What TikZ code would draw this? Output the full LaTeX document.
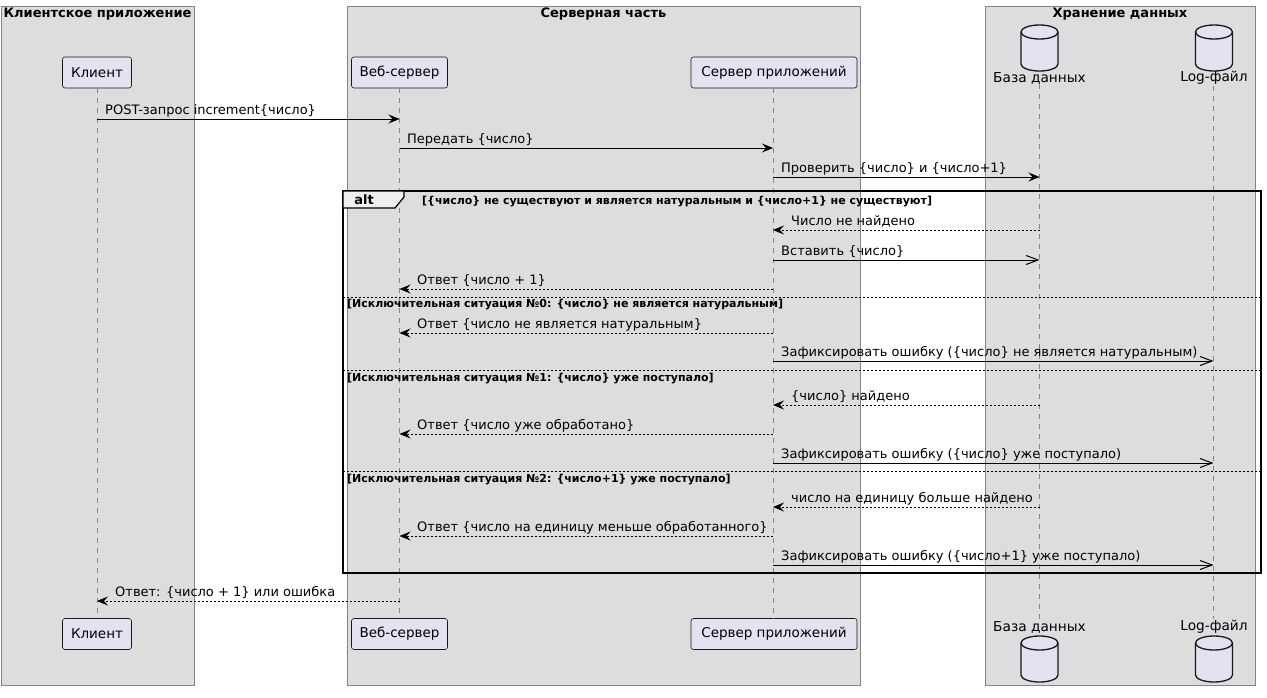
\documentclass[tikz,border=0pt]{standalone}
\usepackage{fontspec}
\setmainfont{DejaVu Sans}
\usepackage{xcolor}
\usepackage{tikz}
\usetikzlibrary{arrows.meta}

\definecolor{grpfill}{HTML}{DDDDDD}
\definecolor{grpline}{HTML}{858585}
\definecolor{partfill}{HTML}{E2E2F0}
\definecolor{partline}{HTML}{181818}
\definecolor{tabfill}{HTML}{EEEEEE}

\tikzset{
    grp/.style={fill=grpfill, draw=grpline, line width=1pt},
    grptitle/.style={font=\fontsize{13}{15}\selectfont\bfseries, inner sep=0pt},
    part/.style={draw=partline, fill=partfill, rounded corners=2.5pt, line width=0.6pt,
        minimum height=31pt, inner xsep=0pt, font=\fontsize{13.5}{16}\selectfont},
    cyl/.style={draw=partline, fill=partfill, line width=1.3pt},
    dbname/.style={inner sep=0pt, font=\fontsize{13.7}{16}\selectfont},
    life/.style={draw=grpline, dash pattern=on 5pt off 5pt, line width=0.8pt},
    sync/.style={-{Stealth[length=11pt,width=9pt,inset=4pt]}, line width=1pt},
    reply/.style={sync, dash pattern=on 2pt off 2pt},
    async/.style={-{Straight Barb[length=12pt,width=9pt]}, line width=1pt},
    lbl/.style={anchor=base west, inner sep=0pt, font=\fontsize{13}{15}\selectfont},
    cond/.style={anchor=base west, inner sep=0pt, font=\fontsize{11}{13}\selectfont\bfseries},
    sep/.style={dash pattern=on 2pt off 2pt, line width=0.8pt},
}

% cylinder: centre x, top y, bottom y
\newcommand{\dbshape}[3]{%
    \filldraw[cyl] (#1-18.5,#2+7) -- (#1-18.5,#3-7)
        arc[start angle=180, end angle=360, x radius=18.5pt, y radius=7pt]
        -- (#1+18.5,#2+7)
        arc[start angle=0, end angle=180, x radius=18.5pt, y radius=7pt] -- cycle;
    \draw[cyl] (#1-18.5,#2+7) arc[start angle=180, end angle=360, x radius=18.5pt, y radius=7pt];
}

\begin{document}
\begin{tikzpicture}[x=1pt, y=-1pt]
        \useasboundingbox (0,0) rectangle (1267,697);

        % groups
        \draw[grp] (1,6) rectangle (194,685);
        \draw[grp] (347,6) rectangle (860,685);
        \draw[grp] (985,6) rectangle (1255,685);
        \node[grptitle] (g1) at (97.5,14) {Клиентское приложение};
        \node[grptitle] (g2) at (603.5,14) {Серверная часть};
        \node[grptitle] (g3) at (1120,14) {Хранение данных};

        % participants
        \node[part, minimum width=69pt] (k1) at (97,72.5) {Клиент};
        \node[part, minimum width=96pt] (w1) at (399.5,72.5) {Веб-сервер};
        \node[part, minimum width=166pt] (a1) at (774,72.5) {Сервер приложений};
        \node[part, minimum width=69pt] (k2) at (97,634) {Клиент};
        \node[part, minimum width=96pt] (w2) at (399.5,634) {Веб-сервер};
        \node[part, minimum width=166pt] (a2) at (774,634) {Сервер приложений};

        \dbshape{1039.5}{25}{71}
        \dbshape{1214}{25}{71}
        \dbshape{1039.5}{636}{682}
        \dbshape{1214}{636}{682}
        \node[dbname] (d1) at (1039.5,78) {База данных};
        \node[dbname] (l1) at (1214,78) {Log-файл};
        \node[dbname] (d2) at (1039.5,627) {База данных};
        \node[dbname] (l2) at (1214,627) {Log-файл};

        % lifelines
        \draw[life] (k1.south) -- (k2.north);
        \draw[life] (w1.south) -- (w2.north);
        \draw[life] (773,88) coordinate (a1s) -- (773,619) coordinate (a2n);
        \draw[life] (d1.south) -- (d2.north);
        \draw[life] (1213.5,86) coordinate (l1s) -- (1213.5,619) coordinate (l2n);

        % alt frame
        \coordinate (F1) at (343,191);
        \coordinate (F2) at (1261,573);
        \draw[line width=1.5pt] (F1) rectangle (F2);
        \filldraw[fill=tabfill, line width=1.2pt] (343,191) -- (404,191) -- (404,197) -- (395,208) -- (343,208) -- cycle;
        \node[font=\fontsize{13}{15}\selectfont\bfseries, inner sep=0pt] (alt) at (364,200) {alt};
        \node[cond] (c0) at (422,204) {[\{число\} не существуют и является натуральным и \{число+1\} не существуют]};
        \draw[sep] (343,297) -- (1261,297);
        \node[cond] (c1) at (347,307) {[Исключительная ситуация №0: \{число\} не является натуральным]};
        \draw[sep] (343,370) -- (1261,370);
        \node[cond] (c2) at (347,381) {[Исключительная ситуация №1: \{число\} уже поступало]};
        \draw[sep] (343,471) -- (1261,471);
        \node[cond] (c3) at (347,482) {[Исключительная ситуация №2: \{число+1\} уже поступало]};

        % message ends
        \coordinate (m1a) at (97,119);      \coordinate (m1b) at (399.5,119);
        \coordinate (m2a) at (399.5,148);   \coordinate (m2b) at (773,148);
        \coordinate (m3a) at (773,177);     \coordinate (m3b) at (1039.5,177);
        \coordinate (m4a) at (1039.5,230);  \coordinate (m4b) at (773,230);
        \coordinate (m5a) at (773,260);     \coordinate (m5b) at (1039.5,260);
        \coordinate (m6a) at (773,289);     \coordinate (m6b) at (399.5,289);
        \coordinate (m7a) at (773,333);     \coordinate (m7b) at (399.5,333);
        \coordinate (m8a) at (773,361);     \coordinate (m8b) at (1213.5,361);
        \coordinate (m9a) at (1039.5,405);  \coordinate (m9b) at (773,405);
        \coordinate (m10a) at (773,434);    \coordinate (m10b) at (399.5,434);
        \coordinate (m11a) at (773,463);    \coordinate (m11b) at (1213.5,463);
        \coordinate (m12a) at (1039.5,507); \coordinate (m12b) at (773,507);
        \coordinate (m13a) at (773,536);    \coordinate (m13b) at (399.5,536);
        \coordinate (m14a) at (773,565);    \coordinate (m14b) at (1213.5,565);
        \coordinate (m15a) at (399.5,601);  \coordinate (m15b) at (97,601);

        % messages
        \draw[sync] (m1a) -- (m1b);
        \draw[sync] (m2a) -- (m2b);
        \draw[sync] (m3a) -- (m3b);
        \draw[reply] (m4a) -- (m4b);
        \draw[async] (m5a) -- (m5b);
        \draw[reply] (m6a) -- (m6b);
        \draw[reply] (m7a) -- (m7b);
        \draw[async] (m8a) -- (m8b);
        \draw[reply] (m9a) -- (m9b);
        \draw[reply] (m10a) -- (m10b);
        \draw[async] (m11a) -- (m11b);
        \draw[reply] (m12a) -- (m12b);
        \draw[reply] (m13a) -- (m13b);
        \draw[async] (m14a) -- (m14b);
        \draw[reply] (m15a) -- (m15b);

        \node[lbl] (t1) at (105,114) {POST-запрос increment\{число\}};
        \node[lbl] (t2) at (407,143) {Передать \{число\}};
        \node[lbl] (t3) at (781,172) {Проверить \{число\} и \{число+1\}};
        \node[lbl] (t4) at (791,225) {Число не найдено};
        \node[lbl] (t5) at (781,255) {Вставить \{число\}};
        \node[lbl] (t6) at (417,284) {Ответ \{число + 1\}};
        \node[lbl] (t7) at (417,328) {Ответ \{число не является натуральным\}};
        \node[lbl] (t8) at (781,356) {Зафиксировать ошибку (\{число\} не является натуральным)};
        \node[lbl] (t9) at (791,400) {\{число\} найдено};
        \node[lbl] (t10) at (417,429) {Ответ \{число уже обработано\}};
        \node[lbl] (t11) at (781,458) {Зафиксировать ошибку (\{число\} уже поступало)};
        \node[lbl] (t12) at (791,502) {число на единицу больше найдено};
        \node[lbl] (t13) at (417,531) {Ответ \{число на единицу меньше обработанного\}};
        \node[lbl] (t14) at (781,560) {Зафиксировать ошибку (\{число+1\} уже поступало)};
        \node[lbl] (t15) at (115,596) {Ответ: \{число + 1\} или ошибка};

    \end{tikzpicture}
\end{document}
